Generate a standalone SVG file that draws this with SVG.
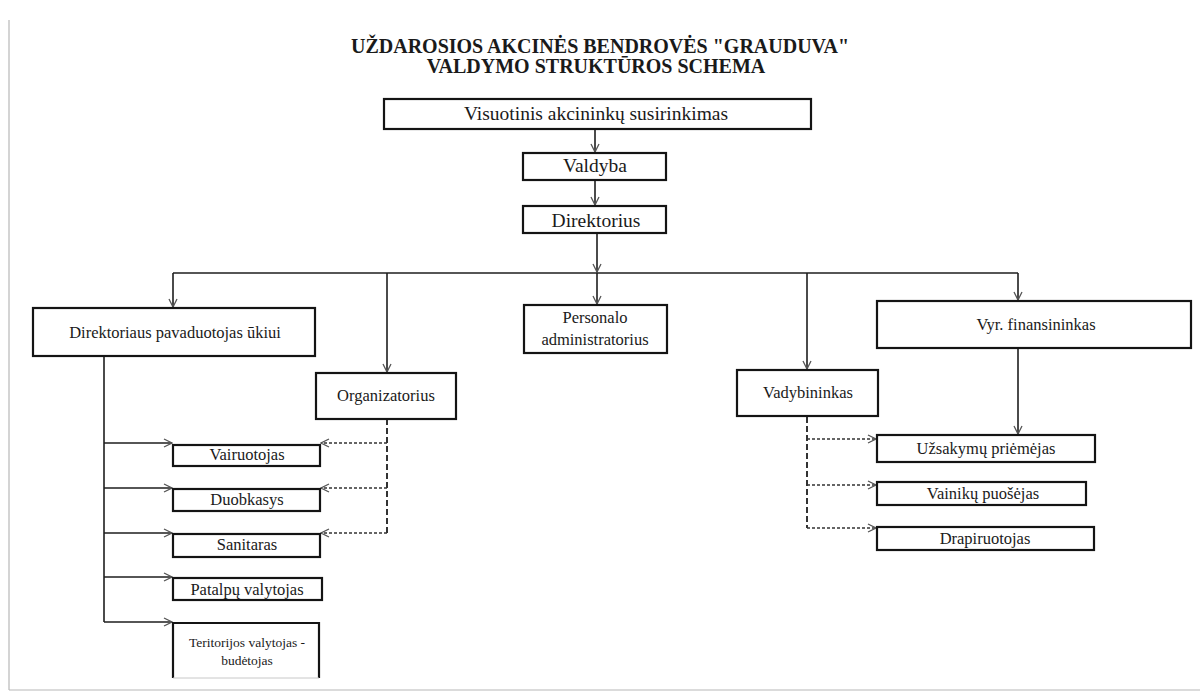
<svg xmlns="http://www.w3.org/2000/svg" width="1200" height="694" viewBox="0 0 1200 694">
<defs>
<style>
.box{fill:#fff;stroke:#141414;stroke-width:2.2}
.t{font-family:"Liberation Serif","Times New Roman",serif;fill:#1a1a1a;text-anchor:middle}
.tt{font-family:"Liberation Serif","Times New Roman",serif;font-weight:bold;fill:#1a1a1a;text-anchor:middle;font-size:20px}
.big{font-size:19.5px}
.mid{font-size:16.5px}
.sm{font-size:13.5px}
.c{fill:none;stroke:#1e1e1e;stroke-width:1.6}
.d{fill:none;stroke:#333;stroke-width:1.3;stroke-dasharray:3 2}
.dv{fill:none;stroke:#333;stroke-width:2;stroke-dasharray:6 3}
.edge{fill:none;stroke:#b8b8b8;stroke-width:1.2}
</style>
<marker id="ah" markerWidth="10" markerHeight="10" refX="9" refY="5" orient="auto" markerUnits="userSpaceOnUse">
<path d="M1,1 L9,5 L1,9" fill="none" stroke="#555" stroke-width="1.3"/>
</marker>
</defs>
<rect width="1200" height="694" fill="#fff"/>
<line class="edge" x1="9" y1="20" x2="9" y2="690"/>
<line class="edge" x1="9" y1="690" x2="1200" y2="690"/>

<g id="title">
<text class="tt" x="600" y="53">UŽDAROSIOS AKCINĖS BENDROVĖS "GRAUDUVA"</text>
<text class="tt" x="596" y="73">VALDYMO STRUKTŪROS SCHEMA</text>
</g>

<g id="connectors">
<line class="c" x1="595" y1="129" x2="595" y2="152" marker-end="url(#ah)"/>
<line class="c" x1="595" y1="180" x2="595" y2="205" marker-end="url(#ah)"/>
<line class="c" x1="597" y1="233" x2="597" y2="272" marker-end="url(#ah)"/>
<line class="c" x1="173" y1="273" x2="1018" y2="273"/>
<line class="c" x1="173" y1="273" x2="173" y2="307" marker-end="url(#ah)"/>
<line class="c" x1="387" y1="273" x2="387" y2="372" marker-end="url(#ah)"/>
<line class="c" x1="597" y1="273" x2="597" y2="304" marker-end="url(#ah)"/>
<line class="c" x1="807" y1="273" x2="807" y2="369" marker-end="url(#ah)"/>
<line class="c" x1="1018" y1="273" x2="1018" y2="300" marker-end="url(#ah)"/>
<line class="c" x1="1018" y1="348" x2="1018" y2="434" marker-end="url(#ah)"/>
<path class="c" d="M104,356 V622"/>
<line class="c" x1="104" y1="443" x2="172" y2="443" marker-end="url(#ah)"/>
<line class="c" x1="104" y1="488" x2="172" y2="488" marker-end="url(#ah)"/>
<line class="c" x1="104" y1="533" x2="172" y2="533" marker-end="url(#ah)"/>
<line class="c" x1="104" y1="577" x2="172" y2="577" marker-end="url(#ah)"/>
<line class="c" x1="104" y1="622" x2="172" y2="622" marker-end="url(#ah)"/>
<path class="dv" d="M387,419 V533"/>
<line class="d" x1="387" y1="443" x2="321" y2="443" marker-end="url(#ah)"/>
<line class="d" x1="387" y1="488" x2="321" y2="488" marker-end="url(#ah)"/>
<line class="d" x1="387" y1="533" x2="321" y2="533" marker-end="url(#ah)"/>
<path class="dv" d="M807,417 V528"/>
<line class="d" x1="807" y1="439" x2="876" y2="439" marker-end="url(#ah)"/>
<line class="d" x1="807" y1="485" x2="876" y2="485" marker-end="url(#ah)"/>
<line class="d" x1="807" y1="528" x2="876" y2="528" marker-end="url(#ah)"/>
</g>

<g id="n-visuotinis">
<rect class="box" x="384" y="99" width="427" height="30"/>
<text class="t big" x="596" y="120">Visuotinis akcininkų susirinkimas</text>
</g>
<g id="n-valdyba">
<rect class="box" x="523" y="153" width="143" height="27"/>
<text class="t big" x="595" y="172">Valdyba</text>
</g>
<g id="n-direktorius">
<rect class="box" x="523" y="206" width="143" height="27"/>
<text class="t big" x="596" y="227">Direktorius</text>
</g>
<g id="n-pavaduotojas">
<rect class="box" x="33" y="308" width="282" height="48"/>
<text class="t mid" x="175" y="338">Direktoriaus pavaduotojas ūkiui</text>
</g>
<g id="n-organizatorius">
<rect class="box" x="316" y="373" width="140" height="46"/>
<text class="t mid" x="386" y="401">Organizatorius</text>
</g>
<g id="n-personalo">
<rect class="box" x="524" y="305" width="143" height="48"/>
<text class="t mid" x="595" y="323">Personalo</text>
<text class="t mid" x="595" y="345">administratorius</text>
</g>
<g id="n-vadybininkas">
<rect class="box" x="737" y="370" width="141" height="46"/>
<text class="t mid" x="808" y="398">Vadybininkas</text>
</g>
<g id="n-finansininkas">
<rect class="box" x="877" y="301" width="314" height="47"/>
<text class="t mid" x="1036" y="330">Vyr. finansininkas</text>
</g>
<g id="n-vairuotojas">
<rect class="box" x="173" y="445" width="147" height="21"/>
<text class="t mid" x="247" y="460">Vairuotojas</text>
</g>
<g id="n-duobkasys">
<rect class="box" x="173" y="489" width="147" height="22"/>
<text class="t mid" x="247" y="505">Duobkasys</text>
</g>
<g id="n-sanitaras">
<rect class="box" x="173" y="534" width="147" height="23"/>
<text class="t mid" x="247" y="550">Sanitaras</text>
</g>
<g id="n-patalpu">
<rect class="box" x="173" y="578" width="149" height="22"/>
<text class="t mid" x="247" y="595">Patalpų valytojas</text>
</g>
<g id="n-teritorijos">
<path d="M173,678 V623 H319 V678" fill="#fff" stroke="#141414" stroke-width="2.2"/>
<line x1="173" y1="678" x2="319" y2="678" stroke="#c8c8c8" stroke-width="1"/>
<text class="t sm" x="247" y="647">Teritorijos valytojas -</text>
<text class="t sm" x="247" y="665">budėtojas</text>
</g>
<g id="n-uzsakymu">
<rect class="box" x="877" y="435" width="218" height="27"/>
<text class="t mid" x="986" y="454">Užsakymų priėmėjas</text>
</g>
<g id="n-vainiku">
<rect class="box" x="877" y="482" width="209" height="23"/>
<text class="t mid" x="983" y="499">Vainikų puošėjas</text>
</g>
<g id="n-drapiruotojas">
<rect class="box" x="877" y="527" width="217" height="23"/>
<text class="t mid" x="985" y="544">Drapiruotojas</text>
</g>
</svg>
